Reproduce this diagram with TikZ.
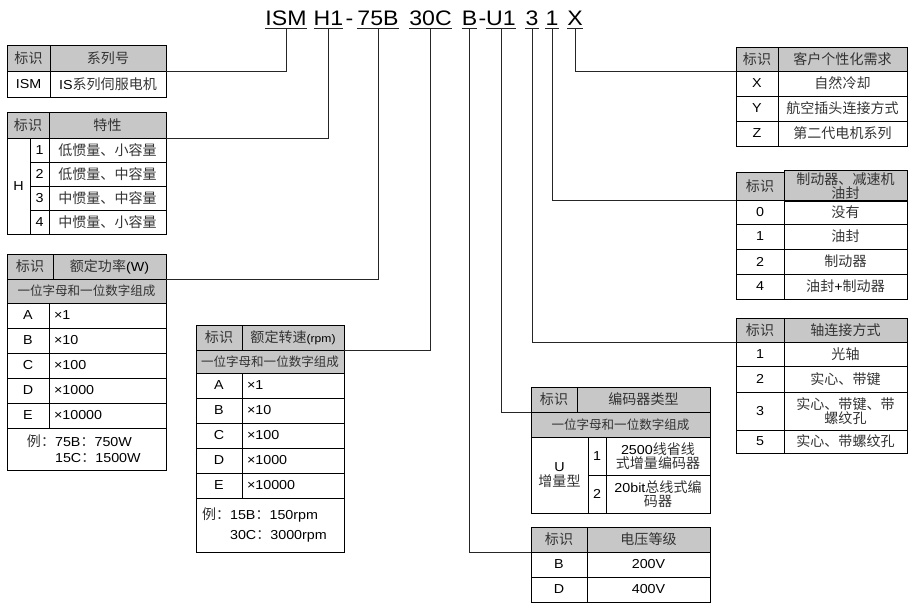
\documentclass[tikz,border=0pt]{standalone}
\usepackage{fontspec}
\setmainfont[FakeStretch=1.1]{Liberation Sans}
\newfontfamily\zh[Scale=1.08,Color=333333]{Noto Sans CJK SC}

% CJK characters switch to \zh by themselves
\XeTeXinterchartokenstate=1
\chardef\zhclass=9
\newcount\zhc
\def\zhrange#1#2{\zhc=#1\relax\loop\XeTeXcharclass\zhc=\zhclass\relax\ifnum\zhc<#2\advance\zhc by 1\repeat}
\zhrange{"4E00}{"9FFF}
\zhrange{"3000}{"303F}
\zhrange{"FF00}{"FFEF}
\XeTeXinterchartoks 0 \zhclass = {\zh}
\XeTeXinterchartoks 4095 \zhclass = {\zh}
\XeTeXinterchartoks \zhclass 0 = {\rmfamily}
\XeTeXinterchartoks \zhclass 4095 = {\rmfamily}

\newcommand{\tabcell}[7][]{%
  \pgfmathsetmacro{\cellw}{(#5)-(#3)}%
  \pgfmathsetmacro{\cellh}{(#6)-(#4)}%
  \node[cellbox,minimum width=\cellw pt,minimum height=\cellh pt,#1] (#2) at ({((#3)+(#5))/2},{((#4)+(#6))/2}) {#7};}

\begin{document}
\begin{tikzpicture}[x=1pt,y=-1pt,
        cellbox/.style={draw, line width=0.9pt, inner sep=2pt, outer sep=0pt, align=center, font=\fontsize{13}{15}\selectfont},
        headbox/.style={fill=black!22},
        subbox/.style={fill=black!22, font=\fontsize{11.6}{14}\selectfont},
        valbox/.style={align=left, inner xsep=5pt},
        seg/.style={anchor=base, inner xsep=0pt, inner ysep=3pt, font=\fontsize{21}{24}\selectfont},
        link/.style={line width=0.8pt, draw=black!85}
    ]
    \useasboundingbox (0,0) rectangle (909,605);

    % --- code line ---
    \node[seg] (ism) at (286,25) {ISM};
    \node[seg] (h1) at (328.5,25) {H1};
    \node[seg] (dsh1) at (349.5,25) {-};
    \node[seg] (p75b) at (378,25) {75B};
    \node[seg] (s30c) at (430.5,25) {30C};
    \node[seg] (bb) at (469.5,25) {B};
    \node[seg] (dsh2) at (482.5,25) {-};
    \node[seg] (u1) at (501,25) {U1};
    \node[seg] (d3) at (532,25) {3};
    \node[seg] (d1) at (552,25) {1};
    \node[seg] (xx) at (575,25) {X};
    \foreach \s in {ism,h1,p75b,s30c,bb,u1,d3,d1,xx}
        \draw[link] (\s.south west) -- (\s.south east);

    % --- series ---
    \tabcell[headbox]{t1a}{7}{45}{50}{71}{标识}
    \tabcell[headbox]{t1b}{50}{45}{166}{71}{系列号}
    \tabcell{t1c}{7}{71}{50}{97}{ISM}
    \tabcell{t1d}{50}{71}{166}{97}{IS系列伺服电机}

    % --- characteristic ---
    \tabcell[headbox]{t2a}{7}{112}{49}{138}{标识}
    \tabcell[headbox]{t2b}{49}{112}{166}{138}{特性}
    \tabcell{t2h}{7}{138}{30}{234}{H}
    \foreach \t [count=\i from 0] in {低惯量、小容量,低惯量、中容量,中惯量、中容量,中惯量、小容量}{
        \pgfmathtruncatemacro{\n}{\i+1}
        \tabcell{t2n\i}{30}{138+24*\i}{49}{162+24*\i}{\n}
        \tabcell{t2r\i}{49}{138+24*\i}{166}{162+24*\i}{\t}
    }

    % --- rated power ---
    \tabcell[headbox]{t3a}{7}{254}{53}{279}{标识}
    \tabcell[headbox]{t3b}{53}{254}{166}{279}{额定功率(W)}
    \tabcell[subbox]{t3s}{7}{279}{166}{303}{一位字母和一位数字组成}
    \foreach \k/\v [count=\i from 0] in {A/1,B/10,C/100,D/1000,E/10000}{
        \tabcell{t3k\i}{7}{303+25*\i}{49}{328+25*\i}{\k}
        \tabcell[valbox,text width=107pt]{t3v\i}{49}{303+25*\i}{166}{328+25*\i}{×\v}
    }
    \tabcell[align=left,inner xsep=20pt,text width=119pt,font=\fontsize{13}{16}\selectfont]{t3e}{7}{428}{166}{470}{例：75B：750W\\\phantom{例：}15C：1500W}

    % --- rated speed ---
    \tabcell[headbox]{t4a}{196}{325}{242}{350}{标识}
    \tabcell[headbox]{t4b}{242}{325}{344}{350}{额定转速{\fontsize{11}{13}\selectfont(rpm)}}
    \tabcell[subbox]{t4s}{196}{350}{344}{373}{一位字母和一位数字组成}
    \foreach \k/\v [count=\i from 0] in {A/1,B/10,C/100,D/1000,E/10000}{
        \tabcell{t4k\i}{196}{373+25*\i}{242}{398+25*\i}{\k}
        \tabcell[valbox,text width=92pt]{t4v\i}{242}{373+25*\i}{344}{398+25*\i}{×\v}
    }
    \tabcell[align=left,inner xsep=6pt,text width=136pt,font=\fontsize{13}{20}\selectfont]{t4e}{196}{498}{344}{552}{例：15B：150rpm\\\phantom{例：}30C：3000rpm}

    % --- encoder ---
    \tabcell[headbox]{t5a}{531}{387}{577}{412}{标识}
    \tabcell[headbox]{t5b}{577}{387}{710}{412}{编码器类型}
    \tabcell[subbox]{t5s}{531}{412}{710}{437}{一位字母和一位数字组成}
    \tabcell{t5u}{531}{437}{588}{513}{U\\增量型}
    \tabcell{t5n1}{588}{437}{606}{475}{1}
    \tabcell[font=\fontsize{13}{14.5}\selectfont]{t5r1}{606}{437}{710}{475}{2500线省线\\式增量编码器}
    \tabcell{t5n2}{588}{475}{606}{513}{2}
    \tabcell[font=\fontsize{13}{14.5}\selectfont]{t5r2}{606}{475}{710}{513}{20bit总线式编\\码器}

    % --- voltage ---
    \tabcell[headbox]{t6a}{531}{527}{587}{552}{标识}
    \tabcell[headbox]{t6b}{587}{527}{710}{552}{电压等级}
    \tabcell{t6k1}{531}{552}{587}{577}{B}
    \tabcell{t6v1}{587}{552}{710}{577}{200V}
    \tabcell{t6k2}{531}{577}{587}{602}{D}
    \tabcell{t6v2}{587}{577}{710}{602}{400V}

    % --- customer options ---
    \tabcell[headbox]{t7a}{736}{47}{778}{71}{标识}
    \tabcell[headbox]{t7b}{778}{47}{907}{71}{客户个性化需求}
    \tabcell{t7k1}{736}{71}{778}{96}{X}
    \tabcell{t7v1}{778}{71}{907}{96}{自然冷却}
    \tabcell{t7k2}{736}{96}{778}{121}{Y}
    \tabcell{t7v2}{778}{96}{907}{121}{航空插头连接方式}
    \tabcell{t7k3}{736}{121}{778}{146}{Z}
    \tabcell{t7v3}{778}{121}{907}{146}{第二代电机系列}

    % --- brake / oil seal ---
    \tabcell[headbox]{t8a}{736}{172}{784}{200}{标识}
    \tabcell[headbox,font=\fontsize{13}{14.5}\selectfont]{t8b}{784}{172}{907}{200}{制动器、减速机\\油封}
    \tabcell{t8k1}{736}{200}{784}{224}{0}
    \tabcell{t8v1}{784}{200}{907}{224}{没有}
    \tabcell{t8k2}{736}{224}{784}{249}{1}
    \tabcell{t8v2}{784}{224}{907}{249}{油封}
    \tabcell{t8k3}{736}{249}{784}{274}{2}
    \tabcell{t8v3}{784}{249}{907}{274}{制动器}
    \tabcell{t8k4}{736}{274}{784}{299}{4}
    \tabcell{t8v4}{784}{274}{907}{299}{油封+制动器}

    % --- shaft ---
    \tabcell[headbox]{t9a}{736}{318}{784}{342}{标识}
    \tabcell[headbox]{t9b}{784}{318}{907}{342}{轴连接方式}
    \tabcell{t9k1}{736}{342}{784}{366}{1}
    \tabcell{t9v1}{784}{342}{907}{366}{光轴}
    \tabcell{t9k2}{736}{366}{784}{392}{2}
    \tabcell{t9v2}{784}{366}{907}{392}{实心、带键}
    \tabcell{t9k3}{736}{392}{784}{430}{3}
    \tabcell[font=\fontsize{13}{14.5}\selectfont]{t9v3}{784}{392}{907}{430}{实心、带键、带\\螺纹孔}
    \tabcell{t9k4}{736}{430}{784}{453}{5}
    \tabcell{t9v4}{784}{430}{907}{453}{实心、带螺纹孔}

    % --- connectors ---
    \draw[link] (ism.south) |- (t1b.south east);
    \draw[link] (h1.south) |- (t2b.south east);
    \draw[link] (p75b.south) |- (t3b.south east);
    \draw[link] (s30c.south) |- (t4b.south east);
    \draw[link] (bb.south) |- (t6a.south west);
    \draw[link] (u1.south) |- (t5a.south west);
    \draw[link] (d3.south) |- (t9a.south west);
    \draw[link] (d1.south) |- (t8a.south west);
    \draw[link] (xx.south) |- (t7a.south west);

\end{tikzpicture}
\end{document}
